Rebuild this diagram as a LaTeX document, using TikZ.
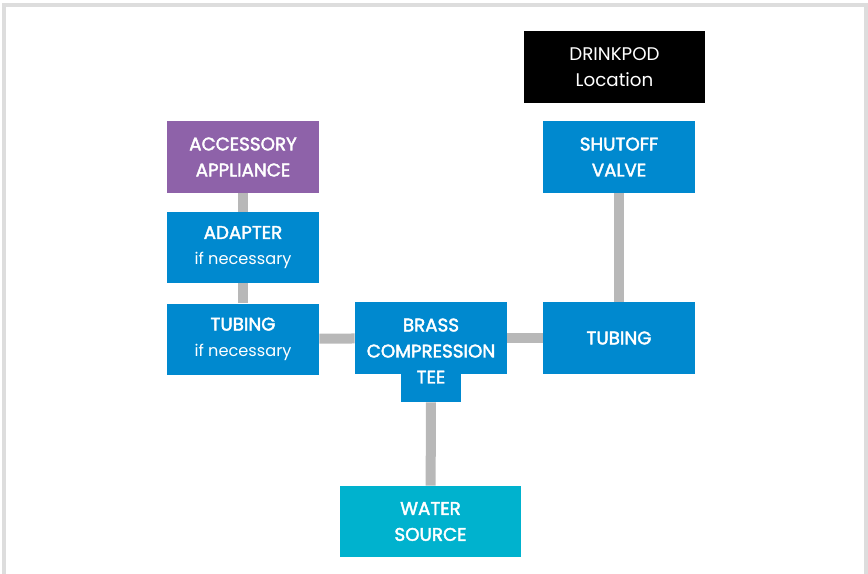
\documentclass[tikz,border=0pt]{standalone}
\usepackage{fontspec}
\setmainfont{Poppins}
\newfontfamily\headfont{Poppins}[FakeBold=2.2]
\usepackage{tikz}
\usetikzlibrary{positioning}
\definecolor{PodBlue}{HTML}{0089CF}
\definecolor{PodPurple}{HTML}{8E62A9}
\definecolor{PodCyan}{HTML}{00B2CE}
\definecolor{PipeGray}{HTML}{B8B8B8}
\definecolor{FrameGray}{HTML}{DDDDDD}
\newcommand{\subnote}[1]{{\normalfont\fontsize{11.5}{18.5}\selectfont #1}}
\tikzset{%
  part/.style={fill=PodBlue,text=white,align=center,inner sep=0pt,
    minimum width=3.8cm,minimum height=1.775cm,
    font=\headfont\fontsize{13}{18.5}\selectfont},
  widepart/.style={part,minimum width=4.525cm,minimum height=1.8cm},
  pipe/.style={line width=0.25cm,PipeGray}
}
\begin{document}
\begin{tikzpicture}[x=0.025cm,y=-0.025cm]
  \useasboundingbox (0,0) rectangle (868,573);
  \draw[FrameGray,line width=2.5pt] (4.2,580) -- (4.2,5.2) -- (865.8,5.2) -- (865.8,580);
  % top right: location and valve
  \node[widepart,fill=black,font=\fontsize{13}{18.5}\selectfont] (pod) at (614.5,67) {DRINKPOD\\Location};
  \node[part] (valve) at (619,157) {SHUTOFF\\VALVE};
  \node[part] (tubeR) at (619,338) {TUBING};
  % left column
  \node[part,fill=PodPurple] (appliance) at (243,157) {ACCESSORY\\APPLIANCE};
  \node[part,below=0.475cm of appliance] (adapter) {ADAPTER\\\subnote{if necessary}};
  \node[part,below=0.5cm of adapter] (tubeL) {TUBING\\\subnote{if necessary}};
  % tee and source
  \node[part] (tee) at (431,338) {};
  \node[part,minimum width=1.475cm,minimum height=0.7cm,anchor=north] (teetab) at (tee.south) {};
  \node[part,fill=none] (teetext) at (431,351) {BRASS\\COMPRESSION\\TEE};
  \node[widepart,fill=PodCyan,minimum height=1.775cm] (source) at (430.5,521.5) {WATER\\SOURCE};
  % pipes
  \draw[pipe] (appliance) -- (adapter);
  \draw[pipe] (adapter) -- (tubeL);
  \draw[pipe] (tubeL) -- (tee);
  \draw[pipe] (tee) -- (tubeR);
  \draw[pipe] (valve) -- (tubeR);
  \draw[pipe] (teetab) -- (source);
\end{tikzpicture}
\end{document}
